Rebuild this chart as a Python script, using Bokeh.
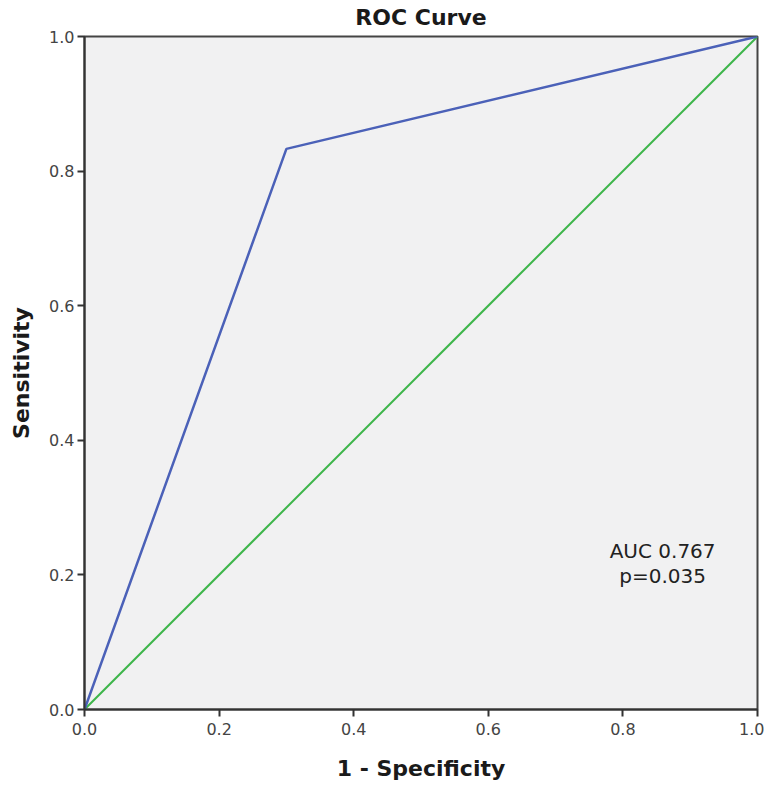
from bokeh.plotting import figure
from bokeh.models import Label, Range1d, FixedTicker, PrintfTickFormatter
from bokeh.embed import file_html
from bokeh.resources import INLINE

# ROC curve data
fpr = [0.0, 0.3, 1.0]
tpr = [0.0, 0.833, 1.0]
ref_x = [0.0, 1.0]
ref_y = [0.0, 1.0]
ticks = [0.0, 0.2, 0.4, 0.6, 0.8, 1.0]
title_text = "ROC Curve"
auc_text = "AUC 0.767"
p_text = "p=0.035"

p = figure(width=764, height=783, output_backend="svg", toolbar_location=None,
           x_range=Range1d(0, 1), y_range=Range1d(0, 1),
           frame_width=673, frame_height=673,
           min_border_left=84, min_border_right=7, min_border_top=36, min_border_bottom=74,
           title=title_text)
p.title.align = "center"
p.title.vertical_align = "top"
p.title.standoff = 9
p.title.text_font = "DejaVu Sans"
p.title.text_font_size = "22px"
p.title.text_font_style = "bold"
p.title.text_color = "#1a1a1a"

p.background_fill_color = "#f1f1f2"
p.border_fill_color = "white"
p.outline_line_color = "#444444"
p.outline_line_width = 2
p.grid.visible = False

for ax in (p.xaxis, p.yaxis):
    ax.ticker = FixedTicker(ticks=ticks)
    ax.formatter = PrintfTickFormatter(format="%.1f")
    ax.minor_tick_line_color = None
    ax.major_tick_out = 7
    ax.major_tick_in = 0
    ax.major_tick_line_width = 2
    ax.major_tick_line_color = "#333333"
    ax.axis_line_color = "#333333"
    ax.axis_line_width = 2
    ax.major_label_text_font = "DejaVu Sans"
    ax.major_label_text_font_size = "16px"
    ax.major_label_text_color = "#444444"
    ax.axis_label_text_font = "DejaVu Sans"
    ax.axis_label_text_font_style = "bold"
    ax.axis_label_text_font_size = "22px"
    ax.axis_label_text_color = "#1a1a1a"

p.xaxis.axis_label = "1 - Specificity"
p.yaxis.axis_label = "Sensitivity"
p.xaxis.axis_label_standoff = 18
p.yaxis.axis_label_standoff = 12
p.xaxis.major_label_standoff = 6
p.yaxis.major_label_standoff = 3

p.line(ref_x, ref_y, line_color="#3db54a", line_width=2)
p.line(fpr, tpr, line_color="#4b61b8", line_width=2.5)

p.add_layout(Label(x=0.859, y=0.236, text=auc_text, text_align="center", text_baseline="middle",
                   text_font="DejaVu Sans", text_font_size="20px", text_color="#222222"))
p.add_layout(Label(x=0.859, y=0.199, text=p_text, text_align="center", text_baseline="middle",
                   text_font="DejaVu Sans", text_font_size="20px", text_color="#222222"))

open("out.html", "w").write(file_html(p, INLINE))
